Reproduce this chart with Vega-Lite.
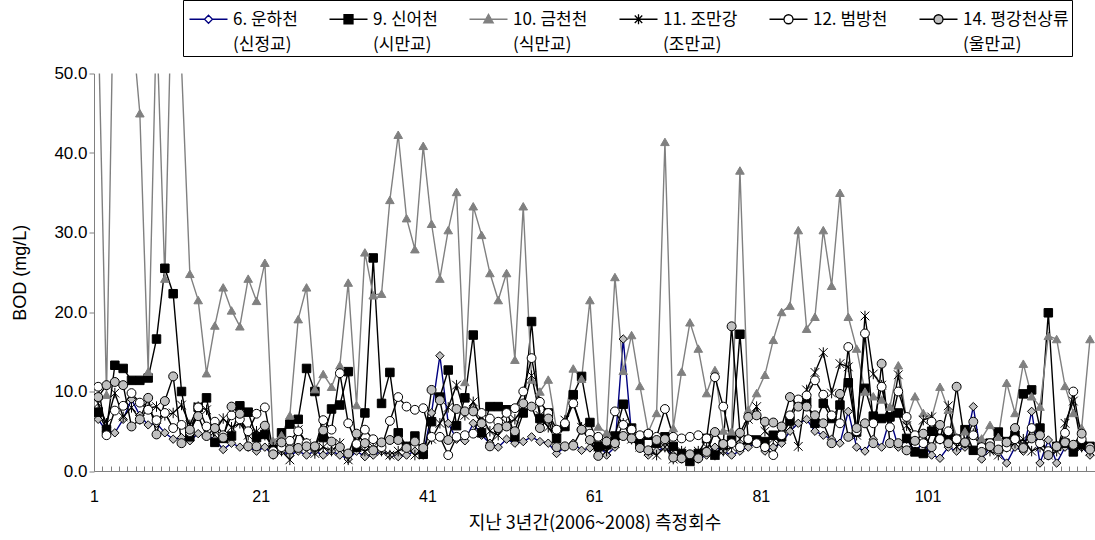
{
"$schema": "https://vega.github.io/schema/vega-lite/v6.json",
"width": 1001, "height": 397.5,
"autosize": "none",
"padding": {"left": 94, "top": 73.5, "right": 0, "bottom": 69},
"background": "white",
"config": {"view": {"stroke": null}, "style": {"guide-label": {"lineHeight": 25}}},
"data": {"values": [
{"i":1,"s06":6.5,"s09":7.4,"s10":57,"s11":8.5,"s12":10.6,"s14":9.3},
{"i":2,"s06":5.0,"s09":5.2,"s10":9.6,"s11":6.0,"s12":4.5,"s14":10.8},
{"i":3,"s06":4.8,"s09":13.3,"s10":71,"s11":9.8,"s12":7.6,"s14":11.2},
{"i":4,"s06":6.5,"s09":12.9,"s10":66,"s11":6.8,"s12":8.2,"s14":10.8},
{"i":5,"s06":9.0,"s09":11.4,"s10":57,"s11":8.0,"s12":9.8,"s14":5.6},
{"i":6,"s06":7.0,"s09":11.4,"s10":45,"s11":6.5,"s12":8.6,"s14":6.5},
{"i":7,"s06":5.8,"s09":11.7,"s10":12.5,"s11":7.9,"s12":7.7,"s14":9.2},
{"i":8,"s06":6.0,"s09":16.6,"s10":57,"s11":8.1,"s12":6.4,"s14":4.6},
{"i":9,"s06":4.8,"s09":25.5,"s10":24.2,"s11":7.0,"s12":7.3,"s14":8.8},
{"i":10,"s06":4.0,"s09":22.3,"s10":69,"s11":7.3,"s12":5.4,"s14":11.9},
{"i":11,"s06":4.2,"s09":10.0,"s10":51,"s11":8.3,"s12":5.8,"s14":3.5},
{"i":12,"s06":3.8,"s09":4.3,"s10":24.8,"s11":5.8,"s12":4.9,"s14":5.2},
{"i":13,"s06":4.7,"s09":8.0,"s10":21.5,"s11":8.1,"s12":8.0,"s14":6.9},
{"i":14,"s06":4.5,"s09":9.2,"s10":12.3,"s11":7.7,"s12":5.6,"s14":4.4},
{"i":15,"s06":4.0,"s09":3.6,"s10":18.3,"s11":5.0,"s12":6.2,"s14":5.4},
{"i":16,"s06":2.7,"s09":4.1,"s10":23.1,"s11":6.6,"s12":4.5,"s14":4.2},
{"i":17,"s06":3.5,"s09":4.4,"s10":20.2,"s11":5.5,"s12":7.0,"s14":8.1},
{"i":18,"s06":3.0,"s09":8.2,"s10":18.2,"s11":6.0,"s12":6.5,"s14":7.2},
{"i":19,"s06":3.0,"s09":7.4,"s10":24.2,"s11":4.5,"s12":5.0,"s14":3.1},
{"i":20,"s06":2.5,"s09":4.2,"s10":21.4,"s11":5.0,"s12":7.2,"s14":3.1},
{"i":21,"s06":3.0,"s09":4.6,"s10":26.2,"s11":4.5,"s12":8.0,"s14":5.7},
{"i":22,"s06":2.0,"s09":3.0,"s10":3.8,"s11":3.0,"s12":2.5,"s14":2.1},
{"i":23,"s06":2.5,"s09":4.8,"s10":4.5,"s11":2.5,"s12":3.0,"s14":3.6},
{"i":24,"s06":2.0,"s09":5.9,"s10":7.0,"s11":1.4,"s12":3.8,"s14":2.7},
{"i":25,"s06":2.5,"s09":6.5,"s10":19.1,"s11":5.2,"s12":5.0,"s14":2.9},
{"i":26,"s06":2.0,"s09":12.9,"s10":23.1,"s11":3.5,"s12":3.5,"s14":3.1},
{"i":27,"s06":2.5,"s09":10.0,"s10":10.3,"s11":2.2,"s12":3.0,"s14":3.1},
{"i":28,"s06":2.0,"s09":4.2,"s10":12.2,"s11":3.0,"s12":6.4,"s14":5.1},
{"i":29,"s06":2.5,"s09":7.8,"s10":10.6,"s11":2.5,"s12":5.2,"s14":3.7},
{"i":30,"s06":2.0,"s09":8.3,"s10":13.3,"s11":3.5,"s12":12.3,"s14":3.0},
{"i":31,"s06":1.5,"s09":12.5,"s10":23.7,"s11":1.4,"s12":6.0,"s14":2.2},
{"i":32,"s06":2.5,"s09":3.0,"s10":8.3,"s11":3.0,"s12":3.4,"s14":4.7},
{"i":33,"s06":1.8,"s09":7.3,"s10":27.5,"s11":2.5,"s12":5.2,"s14":3.5},
{"i":34,"s06":2.0,"s09":26.8,"s10":22.1,"s11":3.0,"s12":4.0,"s14":2.6},
{"i":35,"s06":2.5,"s09":8.5,"s10":22.3,"s11":2.5,"s12":3.0,"s14":3.6},
{"i":36,"s06":2.0,"s09":12.4,"s10":34.1,"s11":2.0,"s12":6.3,"s14":3.9},
{"i":37,"s06":1.8,"s09":4.8,"s10":42.3,"s11":2.5,"s12":9.3,"s14":3.9},
{"i":38,"s06":2.0,"s09":3.1,"s10":31.8,"s11":3.0,"s12":8.1,"s14":2.9},
{"i":39,"s06":2.5,"s09":4.4,"s10":27.9,"s11":2.0,"s12":7.7,"s14":3.7},
{"i":40,"s06":2.0,"s09":2.1,"s10":40.9,"s11":2.5,"s12":7.9,"s14":2.9},
{"i":41,"s06":7.3,"s09":6.2,"s10":31.1,"s11":4.0,"s12":4.3,"s14":10.2},
{"i":42,"s06":14.5,"s09":9.3,"s10":24.2,"s11":6.0,"s12":4.3,"s14":8.9},
{"i":43,"s06":6.0,"s09":12.7,"s10":30.3,"s11":8.0,"s12":2.0,"s14":3.9},
{"i":44,"s06":4.0,"s09":5.7,"s10":35.1,"s11":10.8,"s12":4.3,"s14":7.8},
{"i":45,"s06":3.8,"s09":9.2,"s10":11.2,"s11":7.0,"s12":4.5,"s14":7.5},
{"i":46,"s06":6.0,"s09":17.1,"s10":33.3,"s11":8.7,"s12":4.7,"s14":7.5},
{"i":47,"s06":4.5,"s09":4.8,"s10":29.7,"s11":6.8,"s12":7.3,"s14":6.0},
{"i":48,"s06":3.5,"s09":8.1,"s10":24.9,"s11":5.0,"s12":6.6,"s14":3.1},
{"i":49,"s06":3.0,"s09":8.1,"s10":21.5,"s11":4.5,"s12":6.2,"s14":5.4},
{"i":50,"s06":4.0,"s09":7.7,"s10":24.9,"s11":6.0,"s12":7.3,"s14":5.6},
{"i":51,"s06":3.5,"s09":4.3,"s10":14.0,"s11":6.5,"s12":7.9,"s14":5.0},
{"i":52,"s06":3.7,"s09":7.3,"s10":33.3,"s11":8.0,"s12":10.0,"s14":8.5},
{"i":53,"s06":4.3,"s09":18.8,"s10":11.5,"s11":12.0,"s12":14.2,"s14":8.1},
{"i":54,"s06":3.7,"s09":6.6,"s10":10.0,"s11":7.0,"s12":8.7,"s14":5.4},
{"i":55,"s06":3.5,"s09":7.3,"s10":11.5,"s11":5.5,"s12":7.3,"s14":6.6},
{"i":56,"s06":2.2,"s09":4.1,"s10":5.2,"s11":4.0,"s12":5.2,"s14":3.0},
{"i":57,"s06":3.0,"s09":5.6,"s10":6.4,"s11":6.4,"s12":6.0,"s14":3.1},
{"i":58,"s06":3.5,"s09":9.6,"s10":12.9,"s11":8.6,"s12":8.5,"s14":3.2},
{"i":59,"s06":2.6,"s09":11.9,"s10":11.6,"s11":5.5,"s12":5.2,"s14":5.2},
{"i":60,"s06":2.9,"s09":6.1,"s10":21.5,"s11":4.0,"s12":4.7,"s14":3.9},
{"i":61,"s06":3.5,"s09":3.1,"s10":5.6,"s11":3.0,"s12":4.3,"s14":1.9},
{"i":62,"s06":2.0,"s09":3.3,"s10":4.8,"s11":2.5,"s12":3.7,"s14":3.7},
{"i":63,"s06":3.0,"s09":4.4,"s10":24.4,"s11":3.5,"s12":7.5,"s14":3.5},
{"i":64,"s06":16.6,"s09":8.4,"s10":12.6,"s11":6.0,"s12":5.8,"s14":4.4},
{"i":65,"s06":4.5,"s09":5.4,"s10":17.1,"s11":4.0,"s12":5.2,"s14":4.1},
{"i":66,"s06":3.0,"s09":3.5,"s10":10.7,"s11":3.0,"s12":4.5,"s14":2.9},
{"i":67,"s06":2.0,"s09":4.5,"s10":4.9,"s11":2.5,"s12":4.7,"s14":2.6},
{"i":68,"s06":2.5,"s09":3.5,"s10":7.3,"s11":2.0,"s12":4.3,"s14":3.9},
{"i":69,"s06":3.0,"s09":4.3,"s10":41.4,"s11":3.0,"s12":7.8,"s14":4.0},
{"i":70,"s06":2.0,"s09":3.1,"s10":5.4,"s11":1.5,"s12":4.3,"s14":1.7},
{"i":71,"s06":1.5,"s09":2.2,"s10":12.5,"s11":2.5,"s12":4.1,"s14":1.6},
{"i":72,"s06":2.0,"s09":1.2,"s10":18.7,"s11":2.0,"s12":4.3,"s14":2.1},
{"i":73,"s06":1.5,"s09":2.2,"s10":15.4,"s11":2.5,"s12":4.5,"s14":1.6},
{"i":74,"s06":2.0,"s09":4.1,"s10":9.8,"s11":3.0,"s12":4.1,"s14":2.4},
{"i":75,"s06":3.0,"s09":2.0,"s10":12.7,"s11":2.0,"s12":11.8,"s14":4.9},
{"i":76,"s06":2.5,"s09":3.3,"s10":5.1,"s11":2.5,"s12":8.1,"s14":3.4},
{"i":77,"s06":2.0,"s09":3.9,"s10":5.0,"s11":3.0,"s12":3.5,"s14":18.2},
{"i":78,"s06":2.5,"s09":17.2,"s10":37.8,"s11":4.0,"s12":3.0,"s14":4.8},
{"i":79,"s06":3.0,"s09":3.9,"s10":7.7,"s11":6.5,"s12":4.0,"s14":6.8},
{"i":80,"s06":3.5,"s09":3.9,"s10":9.8,"s11":8.1,"s12":3.5,"s14":7.0},
{"i":81,"s06":2.5,"s09":3.7,"s10":12.1,"s11":5.0,"s12":3.0,"s14":6.2},
{"i":82,"s06":3.0,"s09":4.5,"s10":16.5,"s11":4.0,"s12":2.0,"s14":6.1},
{"i":83,"s06":3.5,"s09":4.3,"s10":20.0,"s11":5.5,"s12":4.5,"s14":5.6},
{"i":84,"s06":5.0,"s09":6.3,"s10":20.8,"s11":6.0,"s12":7.0,"s14":9.3},
{"i":85,"s06":6.0,"s09":8.7,"s10":30.3,"s11":3.1,"s12":9.0,"s14":8.1},
{"i":86,"s06":6.5,"s09":8.7,"s10":17.9,"s11":10.2,"s12":9.5,"s14":8.1},
{"i":87,"s06":5.0,"s09":6.0,"s10":19.4,"s11":12.4,"s12":11.4,"s14":7.0},
{"i":88,"s06":4.5,"s09":8.5,"s10":30.3,"s11":14.9,"s12":9.6,"s14":6.0},
{"i":89,"s06":4.0,"s09":6.6,"s10":23.3,"s11":9.8,"s12":7.0,"s14":3.5},
{"i":90,"s06":3.5,"s09":8.3,"s10":35.0,"s11":13.5,"s12":6.0,"s14":9.7},
{"i":91,"s06":7.5,"s09":11.1,"s10":19.4,"s11":13.1,"s12":15.6,"s14":4.3},
{"i":92,"s06":3.0,"s09":4.9,"s10":15.4,"s11":4.5,"s12":5.0,"s14":5.4},
{"i":93,"s06":2.5,"s09":10.4,"s10":10.0,"s11":19.5,"s12":17.3,"s14":6.0},
{"i":94,"s06":4.0,"s09":6.9,"s10":9.4,"s11":12.2,"s12":6.0,"s14":3.5},
{"i":95,"s06":3.0,"s09":6.6,"s10":9.0,"s11":10.8,"s12":10.6,"s14":13.5},
{"i":96,"s06":6.6,"s09":6.8,"s10":8.1,"s11":6.0,"s12":5.5,"s14":3.5},
{"i":97,"s06":3.0,"s09":7.3,"s10":13.3,"s11":12.1,"s12":10.0,"s14":3.5},
{"i":98,"s06":4.0,"s09":4.1,"s10":6.4,"s11":5.7,"s12":6.8,"s14":2.6},
{"i":99,"s06":2.5,"s09":2.4,"s10":9.4,"s11":4.0,"s12":4.5,"s14":3.8},
{"i":100,"s06":3.5,"s09":2.2,"s10":7.3,"s11":6.4,"s12":3.5,"s14":4.7},
{"i":101,"s06":2.0,"s09":5.0,"s10":6.7,"s11":6.8,"s12":6.2,"s14":3.0},
{"i":102,"s06":1.6,"s09":4.1,"s10":10.6,"s11":4.0,"s12":4.0,"s14":5.8},
{"i":103,"s06":3.0,"s09":4.3,"s10":7.7,"s11":8.2,"s12":5.0,"s14":3.5},
{"i":104,"s06":2.5,"s09":4.0,"s10":4.3,"s11":3.1,"s12":4.0,"s14":10.6},
{"i":105,"s06":3.0,"s09":5.2,"s10":5.0,"s11":3.5,"s12":3.5,"s14":3.6},
{"i":106,"s06":8.1,"s09":2.6,"s10":4.5,"s11":4.7,"s12":4.5,"s14":6.2},
{"i":107,"s06":1.5,"s09":2.9,"s10":4.1,"s11":3.0,"s12":3.0,"s14":2.4},
{"i":108,"s06":3.0,"s09":3.5,"s10":5.8,"s11":2.5,"s12":3.5,"s14":3.1},
{"i":109,"s06":2.5,"s09":4.9,"s10":4.3,"s11":2.0,"s12":2.5,"s14":2.7},
{"i":110,"s06":1.0,"s09":3.7,"s10":11.1,"s11":3.0,"s12":3.0,"s14":3.6},
{"i":111,"s06":3.0,"s09":4.5,"s10":7.3,"s11":3.5,"s12":4.0,"s14":5.4},
{"i":112,"s06":2.5,"s09":9.7,"s10":13.5,"s11":4.0,"s12":3.0,"s14":2.9},
{"i":113,"s06":7.5,"s09":10.2,"s10":9.4,"s11":2.5,"s12":5.4,"s14":4.1},
{"i":114,"s06":1.0,"s09":5.4,"s10":8.1,"s11":3.0,"s12":3.5,"s14":4.5},
{"i":115,"s06":3.9,"s09":19.9,"s10":17.0,"s11":2.0,"s12":2.5,"s14":2.0},
{"i":116,"s06":1.0,"s09":3.1,"s10":16.6,"s11":2.5,"s12":3.0,"s14":3.1},
{"i":117,"s06":3.0,"s09":3.5,"s10":10.7,"s11":6.0,"s12":4.8,"s14":3.6},
{"i":118,"s06":2.5,"s09":2.4,"s10":7.3,"s11":8.8,"s12":10.0,"s14":3.3},
{"i":119,"s06":3.0,"s09":3.3,"s10":5.4,"s11":3.0,"s12":4.0,"s14":4.7},
{"i":120,"s06":2.0,"s09":3.1,"s10":16.6,"s11":2.5,"s12":3.0,"s14":2.7}
]},
"transform": [{"fold": ["s06","s09","s10","s11","s12","s14"], "as": ["key","v"]}],
"encoding": {
  "x": {"field": "i", "type": "quantitative",
    "scale": {"domain": [0.5, 120.6], "nice": false, "zero": false},
    "axis": {"values": [1,2,3,4,5,6,7,8,9,10,11,12,13,14,15,16,17,18,19,20,21,22,23,24,25,26,27,28,29,30,31,32,33,34,35,36,37,38,39,40,41,42,43,44,45,46,47,48,49,50,51,52,53,54,55,56,57,58,59,60,61,62,63,64,65,66,67,68,69,70,71,72,73,74,75,76,77,78,79,80,81,82,83,84,85,86,87,88,89,90,91,92,93,94,95,96,97,98,99,100,101,102,103,104,105,106,107,108,109,110,111,112,113,114,115,116,117,118,119,120],
      "labelExpr": "(datum.value - 1) % 20 == 0 ? datum.label : ''",
      "tickOffset": -4.17, "tickSize": -5, "tickColor": "#808080", "domainColor": "#808080",
      "labelPadding": 22, "labelFont": "Liberation Sans", "labelFontSize": 16, "labelColor": "#000000",
      "labelOverlap": false, "labelFlush": false, "grid": false,
      "title": "지난 3년간(2006~2008) 측정회수", "titleFont": "Noto Sans CJK KR", "titleFontSize": 18,
      "titleFontWeight": "normal", "titleColor": "#000000", "titleY": 52, "titleBaseline": "middle"}},
  "y": {"field": "v", "type": "quantitative",
    "scale": {"domain": [0, 50], "nice": false},
    "axis": {"values": [0,10,20,30,40,50], "format": ".1f", "grid": false,
      "tickSize": 5, "tickColor": "#808080", "domainColor": "#808080", "labelPadding": 2,
      "labelFont": "Liberation Sans", "labelFontSize": 17, "labelColor": "#000000",
      "title": "BOD (mg/L)", "titleFont": "Liberation Sans", "titleFontSize": 18, "titleFontWeight": "normal",
      "titleColor": "#000000", "titleX": -74, "titleBaseline": "middle"}}
},
"layer": [
  {"mark": {"type": "line", "strokeWidth": 1.4, "clip": true},
   "encoding": {"stroke": {"field": "key", "type": "nominal",
     "scale": {"domain": ["s06","s09","s10","s11","s12","s14"], "range": ["#000080","#000000","#808080","#000000","#000000","#000000"]},
     "legend": null}}},
  {"mark": {"type": "point", "filled": true, "strokeWidth": 1, "opacity": 1, "clip": true},
   "encoding": {
     "shape": {"field": "key", "type": "nominal",
       "scale": {"domain": ["s06","s09","s10","s11","s12","s14"], "range": ["diamond","square","triangle-up","M-1,-1L1,1M-1,1L1,-1M0,-1.2L0,1.2","circle","circle"]},
       "legend": null},
     "fill": {"field": "key", "type": "nominal",
       "scale": {"domain": ["s06","s09","s10","s11","s12","s14"], "range": ["#c0c0c0","#000000","#808080","transparent","#ffffff","#c0c0c0"]},
       "legend": null},
     "stroke": {"field": "key", "type": "nominal",
       "scale": {"domain": ["s06","s09","s10","s11","s12","s14"], "range": ["#000000","#000000","#808080","#000000","#000000","#000000"]},
       "legend": null},
     "size": {"field": "key", "type": "nominal",
       "scale": {"domain": ["s06","s09","s10","s11","s12","s14"], "range": [70, 80, 95, 40, 95, 95]},
       "legend": null},
     "order": {"field": "key", "sort": "ascending"}}},
  {"mark": {"type": "point", "filled": true, "opacity": 0, "strokeWidth": 1.3},
   "encoding": {
     "shape": {"field": "key", "type": "nominal",
       "scale": {"domain": ["s06","s09","s10","s11","s12","s14"], "range": [
         "M-3.8,1.5L-0.8,1.5M0.8,1.5L3.8,1.5M0,0.7L0.8,1.5L0,2.3L-0.8,1.5Z",
         "M-3.8,1.5L-0.9,1.5M0.9,1.5L3.8,1.5M-0.9,0.6L0.9,0.6L0.9,2.4L-0.9,2.4Z",
         "M-3.8,1.5L-0.5,1.5M0.5,1.5L3.8,1.5M0,0.5L0.95,2.2L-0.95,2.2Z",
         "M-3.8,1.5L3.8,1.5M-0.75,0.75L0.75,2.25M-0.75,2.25L0.75,0.75M0,0.5L0,2.5",
         "M-3.8,1.5L-0.9,1.5M0.9,1.5L3.8,1.5M0.9,1.5A0.9,0.9,0,1,1,-0.9,1.5A0.9,0.9,0,1,1,0.9,1.5Z",
         "M-3.8,1.5L-0.9,1.5M0.9,1.5L3.8,1.5M0.9,1.5A0.9,0.9,0,1,1,-0.9,1.5A0.9,0.9,0,1,1,0.9,1.5Z"]},
       "legend": {"orient": "none", "legendX": 89, "legendY": -73.5, "direction": "horizontal", "columns": 6,
         "title": null, "padding": 3, "strokeColor": "#000000", "fillColor": "#ffffff",
         "symbolSize": 100, "symbolOffset": 14, "symbolStrokeWidth": 1.3, "symbolOpacity": 1,
         "labelFont": "Noto Sans CJK KR", "labelFontSize": 17, "labelColor": "#000000", "labelOffset": 16,
         "columnPadding": 28, "labelLimit": 400, "labelBaseline": "top",
         "labelExpr": "datum.label == 's06' ? ['6. 운하천', '\u00a0\u00a0\u00a0\u00a0(신정교)'] : datum.label == 's09' ? ['9. 신어천', '\u00a0\u00a0\u00a0\u00a0\u00a0(시만교)'] : datum.label == 's10' ? ['10. 금천천', '\u00a0\u00a0\u00a0\u00a0\u00a0\u00a0(식만교)'] : datum.label == 's11' ? ['11. 조만강', '\u00a0\u00a0\u00a0\u00a0\u00a0\u00a0(조만교)'] : datum.label == 's12' ? ['12. 범방천', ''] : ['14. 평강천상류', '\u00a0\u00a0\u00a0\u00a0\u00a0\u00a0\u00a0\u00a0\u00a0\u00a0\u00a0\u00a0\u00a0(울만교)']"}},
     "fill": {"field": "key", "type": "nominal",
       "scale": {"domain": ["s06","s09","s10","s11","s12","s14"], "range": ["#ffffff","#000000","#808080","transparent","#ffffff","#c0c0c0"]}},
     "stroke": {"field": "key", "type": "nominal",
       "scale": {"domain": ["s06","s09","s10","s11","s12","s14"], "range": ["#000080","#000000","#808080","#000000","#000000","#000000"]}}}}
],
"resolve": {"scale": {"stroke": "independent", "fill": "independent", "shape": "independent", "size": "independent"},
            "legend": {"stroke": "independent", "fill": "independent", "shape": "independent"}}
}
